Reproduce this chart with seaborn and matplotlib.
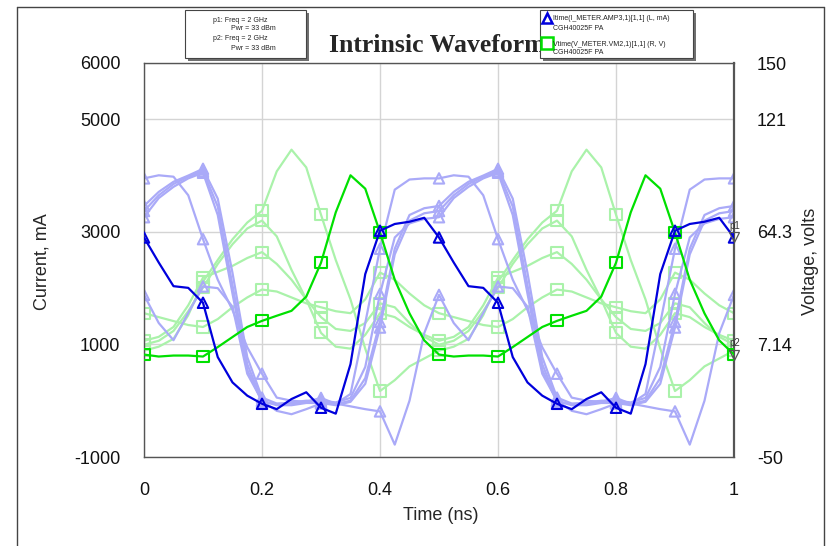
import numpy as np
import pandas as pd
import matplotlib
matplotlib.use("Agg")
import matplotlib.pyplot as plt
import seaborn as sns
from matplotlib.patches import Rectangle
from matplotlib.lines import Line2D

# ---------------------------------------------------------------- data
# time samples (ns), 0.025 ns apart, markers every 0.1 ns
time_ns = np.round(np.arange(41) * 0.025, 4)

# drain current of the selected sweep point (mA)
current_main = [2900, 2455, 2035, 2005, 1740, 775, 325, 90, -55, -150, 30, 150, -125, -230, 650, 2250, 3020, 3140, 3180, 3250,
                2900, 2455, 2035, 2005, 1740, 775, 325, 90, -55, -150, 30, 150, -125, -230, 650, 2250, 3020, 3140, 3180, 3250,
                2900]
# drain voltage of the selected sweep point (V)
voltage_main = [2, 1, 1.5, 1.5, 1, 5.8, 10.9, 16, 19.1, 21.7, 24.2, 31.4, 48.6, 74.2, 93, 86.2, 64, 40, 22.9, 9.2,
                2, 1, 1.5, 1.5, 1, 5.8, 10.9, 16, 19.1, 21.7, 24.2, 31.4, 48.6, 74.2, 93, 86.2, 64, 40, 22.9, 9.2,
                2]

# remaining sweep points, current (mA)
current_other = [
    [3950, 4005, 3980, 3650, 2870, 2150, 1610, 950, 480, 55, 0, -20, 50, -55, 120, 1380, 2700, 3750, 3930, 3950,
     3950, 4005, 3980, 3650, 2870, 2150, 1610, 950, 480, 55, 0, -20, 50, -55, 120, 1380, 2700, 3750, 3930, 3950,
     3950],
    [3460, 3710, 3890, 4000, 4120, 3590, 2270, 775, 55, -50, -50, -20, -30, -60, 0, 400, 1400, 2700, 3300, 3420,
     3460, 3710, 3890, 4000, 4120, 3590, 2270, 775, 55, -50, -50, -20, -30, -60, 0, 400, 1400, 2700, 3300, 3420,
     3460],
    [3370, 3650, 3850, 3980, 4080, 3450, 2050, 650, 0, -80, -80, -40, -40, -80, -20, 300, 1300, 2600, 3200, 3330,
     3370, 3650, 3850, 3980, 4080, 3450, 2050, 650, 0, -80, -80, -40, -40, -80, -20, 300, 1300, 2600, 3200, 3330,
     3370],
    [3260, 3600, 3800, 3950, 4050, 3300, 1900, 550, -20, -60, -30, 0, 0, -30, 50, 600, 1900, 2900, 3150, 3230,
     3260, 3600, 3800, 3950, 4050, 3300, 1900, 550, -20, -60, -30, 0, 0, -30, 50, 600, 1900, 2900, 3150, 3230,
     3260],
    [1880, 1380, 1075, 1560, 2030, 2000, 1670, 480, 0, -180, -240, -150, -50, -50, -100, -150, -190, -780, 0, 1200,
     1880, 1380, 1075, 1560, 2030, 2000, 1670, 480, 0, -180, -240, -150, -50, -50, -100, -150, -190, -780, 0, 1200,
     1880],
]
# remaining sweep points, voltage (V)
voltage_other = [
    [4, 6, 10, 22, 39, 50, 60.5, 69, 75, 95, 106, 97, 73, 50, 30, 5, -16.5, -11, -4, 0,
     4, 6, 10, 22, 39, 50, 60.5, 69, 75, 95, 106, 97, 73, 50, 30, 5, -16.5, -11, -4, 0,
     4],
    [23, 21, 19, 17, 16, 20, 26, 31, 35, 34, 31, 28, 26, 24, 23, 30, 43.6, 40, 33, 27,
     23, 21, 19, 17, 16, 20, 26, 31, 35, 34, 31, 28, 26, 24, 23, 30, 43.6, 40, 33, 27,
     23],
    [7, 9, 14, 24, 36, 48, 58, 66, 70, 62, 45, 30, 21, 15, 14, 18, 28, 26, 18, 11,
     7, 9, 14, 24, 36, 48, 58, 66, 70, 62, 45, 30, 21, 15, 14, 18, 28, 26, 18, 11,
     7],
    [9, 11, 16, 27, 41, 44, 47, 51, 54, 48, 40, 30, 13, 6, 5, 12, 23, 21, 16, 12,
     9, 11, 16, 27, 41, 44, 47, 51, 54, 48, 40, 30, 13, 6, 5, 12, 23, 21, 16, 12,
     9],
]

x_ticks = [0, 0.2, 0.4, 0.6, 0.8, 1]
x_tick_labels = ["0", "0.2", "0.4", "0.6", "0.8", "1"]
left_ticks = [-1000, 1000, 3000, 5000, 6000]
left_tick_labels = ["-1000", "1000", "3000", "5000", "6000"]
right_ticks = [-50, 7.143, 64.29, 121.43, 150]
right_tick_labels = ["-50", "7.14", "64.3", "121", "150"]

# ---------------------------------------------------------------- style
sns.set_style("white")
plt.rcParams["font.family"] = ["Liberation Sans", "DejaVu Sans"]

BLUE = "#0000dc"
GREEN = "#00e000"
BLUE_FAINT = "#aaaaf8"
GREEN_FAINT = "#aaf2aa"
W, H = 830, 546

fig = plt.figure(figsize=(8.3, 5.46), dpi=100)
ax = fig.add_axes([144 / W, 1 - 457 / H, 590 / W, 394 / H])
ax2 = ax.twinx()
ax.set_zorder(2)
ax2.set_zorder(1)
ax.patch.set_visible(False)
ax2.set_ylim(-50, 150)


def draw(values, color, marker, msize, z, volt):
    df = pd.DataFrame({"time": time_ns, "value": values})
    tr = ax2.transData if volt else ax.transData
    sns.lineplot(data=df, x="time", y="value", ax=ax, color=color, linewidth=1.6,
                 estimator=None, sort=False, legend=False, zorder=z, transform=tr)
    marks = df.iloc[::4]
    sns.scatterplot(data=marks, x="time", y="value", ax=ax, marker=marker, s=msize,
                    legend=False, zorder=z + 0.1, transform=tr)
    coll = ax.collections[-1]
    coll.set_facecolor("none")
    coll.set_edgecolor(color)
    coll.set_linewidth(1.5)


for vals in voltage_other:
    draw(vals, GREEN_FAINT, "s", 64, 2, True)
for vals in current_other:
    draw(vals, BLUE_FAINT, "^", 56, 2.2, False)
draw(voltage_main, GREEN, "s", 64, 4, True)
draw(current_main, BLUE, "^", 56, 4.2, False)

# readout markers at the end of the trace
ax.plot([time_ns[-1]], [current_main[-1]], marker="v", ms=7, mfc="none", mec="#555555",
        mew=0.9, ls="none", zorder=6, clip_on=False)
ax.annotate("p1", (time_ns[-1], current_main[-1]), xytext=(-3, 6), textcoords="offset points",
            fontsize=7, color="#333333", zorder=6, annotation_clip=False)
ax.plot([time_ns[-1]], [voltage_main[-1]], marker="v", ms=7, mfc="none", mec="#555555",
        mew=0.9, ls="none", zorder=6, clip_on=False, transform=ax2.transData)
ax.annotate("p2", (time_ns[-1], voltage_main[-1]), xycoords=ax2.transData, xytext=(-3, 6),
            textcoords="offset points", fontsize=7, color="#333333", zorder=6, annotation_clip=False)

# ---------------------------------------------------------------- axes
ax.set_xlim(0, 1)
ax.set_ylim(-1000, 6000)
ax2.set_ylim(-50, 150)
ax.set_xticks(x_ticks)
ax.set_xticklabels(x_tick_labels)
ax.set_yticks(left_ticks)
ax.set_yticklabels(left_tick_labels)
ax2.set_yticks(right_ticks)
ax2.set_yticklabels(right_tick_labels)
ax.set_xlabel("")
ax.set_ylabel("")
ax.grid(True, color="#d4d4d4", lw=1)
ax.set_axisbelow(True)
ax.tick_params(length=0, labelsize=13, colors="#111111")
ax.tick_params(axis="y", pad=17)
ax.tick_params(axis="x", pad=18)
ax2.tick_params(length=0, labelsize=13, colors="#111111", pad=16.5)
for sp in ax.spines.values():
    sp.set_color("#555555")
    sp.set_linewidth(1)
ax.spines["right"].set_linewidth(1.6)
for sp in ax2.spines.values():
    sp.set_visible(False)

fig.text(42 / W, 1 - 262 / H, "Current, mA", rotation=90, ha="center", va="center", fontsize=13)
fig.text(810 / W, 1 - 261 / H, "Voltage, volts", rotation=90, ha="center", va="center", fontsize=13)
fig.text(441 / W, 1 - 516 / H, "Time (ns)", ha="center", va="center", fontsize=13)

# ---------------------------------------------------------------- frame, title, legends
def fx(px):
    return px / W


def fy(py):
    return 1 - py / H


for xs, ys in [((17, 17), (7, 560)), ((17, 824), (7, 7)), ((824, 824), (7, 560))]:
    fig.add_artist(Line2D([fx(x) for x in xs], [fy(y) for y in ys], color="#444444", lw=1, zorder=1))

fig.text(fx(442), fy(52), "Intrinsic Waveforms", family=["Liberation Serif", "DejaVu Serif"],
         fontweight="bold", fontsize=18.5, ha="center", va="baseline", zorder=5)


def box(x0, y0, x1, y1):
    fig.add_artist(Rectangle((fx(x0 + 3), fy(y1 + 3)), (x1 - x0) / W, (y1 - y0) / H,
                             transform=fig.transFigure, facecolor="#707070", edgecolor="none", zorder=6))
    fig.add_artist(Rectangle((fx(x0), fy(y1)), (x1 - x0) / W, (y1 - y0) / H,
                             transform=fig.transFigure, facecolor="white", edgecolor="#444444",
                             lw=0.8, zorder=7))


box(185, 10, 306, 58)
for px, py, s in [(240, 20, "p1: Freq = 2 GHz"), (253, 29, "Pwr = 33 dBm"),
                  (240, 39, "p2: Freq = 2 GHz"), (253, 49, "Pwr = 33 dBm")]:
    fig.text(fx(px), fy(py), s, fontsize=5, ha="center", va="center", color="#222222", zorder=8)

box(540, 10, 693, 58)
fig.add_artist(Line2D([fx(547)], [fy(18)], marker="^", ms=7, mfc="none", mec=BLUE, mew=1.8, zorder=8))
fig.add_artist(Line2D([fx(547)], [fy(43)], marker="s", ms=8, mfc="none", mec=GREEN, mew=1.8, zorder=8))
for px, py, s in [(553, 19, "Itime(I_METER.AMP3,1)[1,1] (L, mA)"), (553, 29, "CGH40025F PA"),
                  (553, 44, "Vtime(V_METER.VM2,1)[1,1] (R, V)"), (553, 53, "CGH40025F PA")]:
    fig.text(fx(px), fy(py), s, fontsize=5, ha="left", va="center", color="#222222", zorder=8)

fig.savefig("out.png", dpi=100)
